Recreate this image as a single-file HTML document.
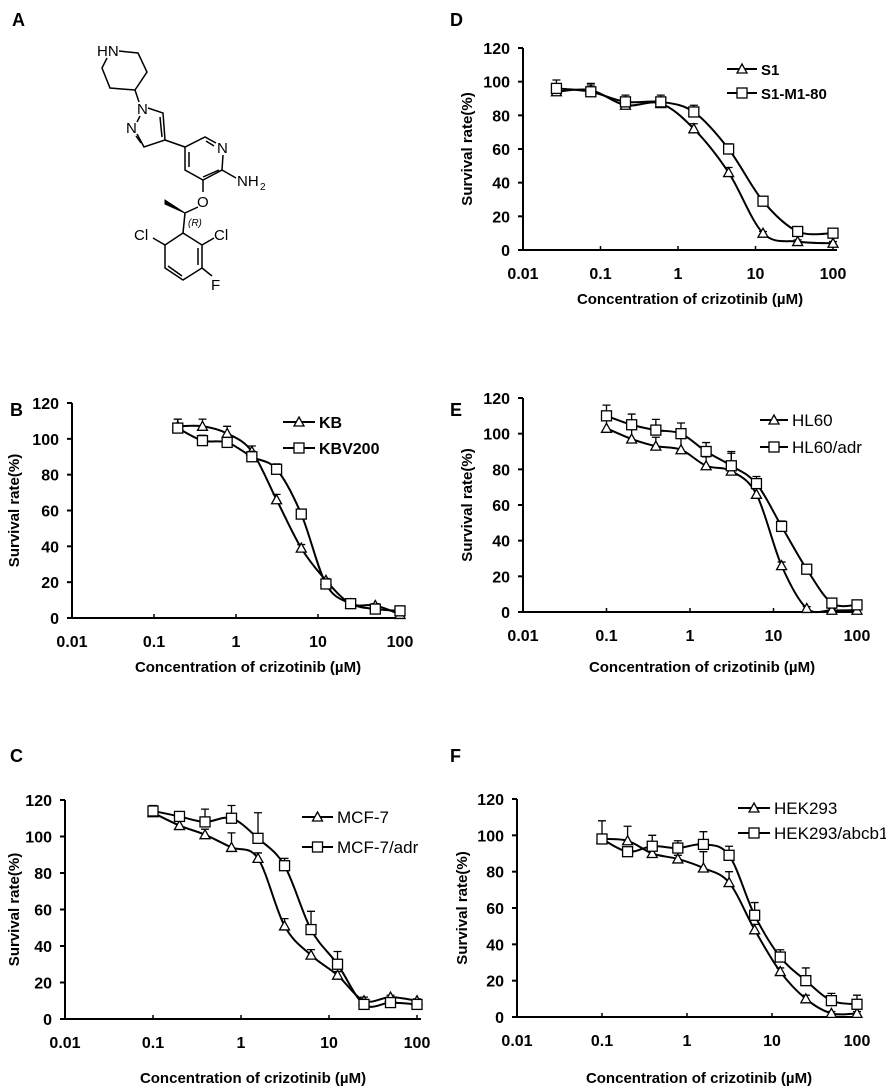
<!DOCTYPE html>
<html><head><meta charset="utf-8">
<style>
html,body{margin:0;padding:0;background:#fff;}
svg{display:block;font-family:"Liberation Sans",Arial,sans-serif;}
.t{font-weight:bold;font-size:16px;fill:#000;}
.tt{font-weight:bold;font-size:15px;fill:#000;}
.ax{stroke:#000;stroke-width:2;fill:none;}
.let{font-weight:bold;font-size:18px;}
.chem{stroke:#000;stroke-width:1.5;fill:none;}
.ct{font-size:15px;fill:#000;}
</style></head>
<body>
<svg id="fig" width="886" height="1090" viewBox="0 0 886 1090">
<text class="let" x="12" y="26">A</text>
<text class="let" x="10" y="416">B</text>
<text class="let" x="10" y="762">C</text>
<text class="let" x="450" y="26">D</text>
<text class="let" x="450" y="416">E</text>
<text class="let" x="450" y="762">F</text>
<g>
<path class="chem" d="M119,51 L138,53 L147,72 L135,90 L110,88 L102,68 L107,58"/>
<text class="ct" x="97" y="56">HN</text>
<path class="chem" d="M135,90 L139,102"/>
<text class="ct" x="137" y="114">N</text>
<path class="chem" d="M148,108 L163,113 L165,140 L144,147 L137,134"/>
<path class="chem" d="M160,117 L162,137 M141,143 L136,136"/>
<text class="ct" x="126" y="133">N</text>
<path class="chem" d="M137,122 L140,116"/>
<path class="chem" d="M165,140 L185,147 L205,137 L216,143 M223,155 L222,170 L203,180 L185,170 L185,147 M189,152 L189,167 M206,141 L214,146 M219,170 L203,177"/>
<text class="ct" x="217" y="153">N</text>
<path class="chem" d="M222,170 L236,178"/>
<text class="ct" x="237" y="186">NH</text><text x="260" y="190" style="font-size:10px">2</text>
<path class="chem" d="M203,180 L203,192"/>
<text class="ct" x="197" y="207">O</text>
<path class="chem" d="M198,207 L185,213 L183,233"/>
<path d="M185,213 L165,200 L165,204 Z" fill="#000" stroke="#000"/>
<text x="188" y="226" style="font-size:10px;font-style:italic">(R)</text>
<path class="chem" d="M183,233 L202,245 L202,268 L183,280 L165,268 L165,245 L183,233 M198,248 L198,265 M182,276 L168,266"/>
<path class="chem" d="M202,245 L214,238 M165,245 L153,238 M202,268 L212,276"/>
<text class="ct" x="214" y="240">Cl</text>
<text class="ct" x="134" y="240">Cl</text>
<text class="ct" x="211" y="290">F</text>
</g>
</svg>
<script>
// Panel B
const bConc = [0.195,0.39,0.78,1.56,3.125,6.25,12.5,25,50,100];
const bKB = [107,107,103,93,66,39,21,8,7,2];
const bKBErr = [4,4,4,3,3,2,1,1,1,1];
const bKBV = [106,99,98,90,83,58,19,8,5,4];
const bKBVErr = [5,3,2,3,3,2,1,1,1,1];
// Panel C
const cConc = [0.1,0.2,0.39,0.78,1.56,3.125,6.25,12.5,25,50,100];
const cMCF = [113,106,101,94,88,51,35,24,10,12,10];
const cMCFErr = [3,3,3,8,3,4,3,2,2,1,1];
const cADR = [114,111,108,110,99,84,49,30,8,9,8];
const cADRErr = [3,2,7,7,14,4,10,7,2,2,2];
// Panel D
const dConc = [0.027,0.075,0.21,0.6,1.6,4.5,12.5,35,100];
const dS1 = [94,95,86,87,72,46,10,5,4];
const dS1Err = [3,3,3,3,3,3,1,1,1];
const dM1 = [96,94,88,88,82,60,29,11,10];
const dM1Err = [5,5,4,4,4,3,1,1,1];
// Panel E
const eConc = [0.1,0.2,0.39,0.78,1.56,3.125,6.25,12.5,25,50,100];
const eHL = [103,97,93,91,82,79,66,26,2,1,1];
const eHLErr = [6,6,5,9,5,10,4,2,1,1,1];
const eADR = [110,105,102,100,90,82,72,48,24,5,4];
const eADRErr = [6,6,6,6,5,8,4,3,2,1,1];
// Panel F
const fConc = [0.1,0.2,0.39,0.78,1.56,3.125,6.25,12.5,25,50,100];
const fHEK = [98,97,90,87,82,74,48,25,10,2,2];
const fHEKErr = [2,8,2,2,9,6,3,2,2,1,1];
const fABC = [98,91,94,93,95,89,56,33,20,9,7];
const fABCErr = [10,2,6,4,7,5,7,4,7,4,5];
const yTicks = [0,20,40,60,80,100,120];
const xTicks = ["0.01","0.1","1","10","100"];

const NS="http://www.w3.org/2000/svg";
const svg=document.getElementById('fig');
function el(tag,attrs,parent){const e=document.createElementNS(NS,tag);for(const k in attrs)e.setAttribute(k,attrs[k]);(parent||svg).appendChild(e);return e;}
function smooth(pts){let d=`M${pts[0][0]},${pts[0][1]}`;for(let i=0;i<pts.length-1;i++){const p0=pts[i-1]||pts[i],p1=pts[i],p2=pts[i+1],p3=pts[i+2]||p2;const c1=[p1[0]+(p2[0]-p0[0])/6,p1[1]+(p2[1]-p0[1])/6],c2=[p2[0]-(p3[0]-p1[0])/6,p2[1]-(p3[1]-p1[1])/6];d+=` C${c1[0]},${c1[1]} ${c2[0]},${c2[1]} ${p2[0]},${p2[1]}`;}return d;}

function panel(cfg){
  const g=el('g',{});
  
  
  const X=v=>cfg.x0+(Math.log10(v)+2)*cfg.dec;
  const Y=v=>cfg.y0-v*(cfg.y0-cfg.y120)/120;
  const right=cfg.x0+4*cfg.dec+4;
  const axis=el('path',{class:'ax',d:`M${cfg.x0},${cfg.y120} L${cfg.x0},${cfg.y0} L${right},${cfg.y0}`},g);
  
  
  yTicks.forEach(t=>{
    el('line',{x1:cfg.x0-5,x2:cfg.x0,y1:Y(t),y2:Y(t),stroke:'#000','stroke-width':2},g);
    const tx=el('text',{class:'t',x:cfg.x0-13,y:Y(t)+6,'text-anchor':'end'},g);tx.textContent=t;
    
    
  });
  xTicks.forEach(t=>{
    const x=X(parseFloat(t));
    el('line',{x1:x,x2:x,y1:cfg.y0,y2:cfg.y0-4,stroke:'#000','stroke-width':1.5},g);
    const tx=el('text',{class:'t',x:x,y:cfg.y0+29,'text-anchor':'middle'},g);tx.textContent=t;
    
    
  });
  const yt=el('text',{class:'tt',transform:`translate(${cfg.ytX},${(cfg.y0+cfg.y120)/2}) rotate(-90)`,'text-anchor':'middle'},g);
  yt.textContent='Survival rate(%)';
  
  
  const xt=el('text',{class:'tt',x:cfg.x0+2*cfg.dec+12,y:cfg.xtY,'text-anchor':'middle'},g);
  xt.textContent='Concentration of crizotinib (\u00b5M)';
  
  
  function marker(type,x,y,parent){
    if(type==='tri') return el('path',{d:`M${x},${y-5} L${x+5},${y+4} L${x-5},${y+4} Z`,fill:'#fff',stroke:'#000','stroke-width':1.3},parent);
    return el('rect',{x:x-5,y:y-5,width:10,height:10,fill:'#fff',stroke:'#000','stroke-width':1.3},parent);
  }
  cfg.series.forEach((s,si)=>{
    const sg=el('g',{},g);
    
    
    const pts=cfg.conc.map((c,i)=>[X(c),Y(s.v[i])]);
    cfg.conc.forEach((c,i)=>{
      const x=X(c),y=Y(s.v[i]),ye=Y(s.v[i]+s.e[i]);
      el('path',{d:`M${x},${y} L${x},${ye} M${x-4},${ye} L${x+4},${ye}`,stroke:'#000','stroke-width':1.3,fill:'none'},sg);
    });
    el('path',{d:smooth(pts),fill:'none',stroke:'#000','stroke-width':2},sg);
    pts.forEach(p=>{const m=marker(s.m,p[0],p[1],sg);
      
      });
    const ly=cfg.leg.y[si];
    const lg=el('g',{},g);
    
    
    el('line',{x1:cfg.leg.x1,x2:cfg.leg.x2,y1:ly,y2:ly,stroke:'#000','stroke-width':2},lg);
    marker(s.m,(cfg.leg.x1+cfg.leg.x2)/2,ly,lg);
    const lt=el('text',{x:cfg.leg.x2+4,y:ly+6,style:`font-size:${cfg.leg.fs}px;font-weight:${cfg.leg.bold?'bold':'normal'}`},lg);
    lt.textContent=s.label;
  });
}
panel({name:'panel-b-chart',x0:72,dec:82,y0:618,y120:403,xtY:672,ytX:19,conc:bConc,
  series:[{label:'KB',v:bKB,e:bKBErr,m:'tri'},{label:'KBV200',v:bKBV,e:bKBVErr,m:'sq'}],
  leg:{x1:283,x2:315,y:[422,448],fs:16,bold:true}});
panel({name:'panel-c-chart',x0:65,dec:88,y0:1019,y120:800,xtY:1083,ytX:19,conc:cConc,
  series:[{label:'MCF-7',v:cMCF,e:cMCFErr,m:'tri'},{label:'MCF-7/adr',v:cADR,e:cADRErr,m:'sq'}],
  leg:{x1:302,x2:333,y:[817,847],fs:17,bold:false}});
panel({name:'panel-d-chart',x0:523,dec:77.5,y0:250,y120:48,xtY:304,ytX:472,conc:dConc,
  series:[{label:'S1',v:dS1,e:dS1Err,m:'tri'},{label:'S1-M1-80',v:dM1,e:dM1Err,m:'sq'}],
  leg:{x1:727,x2:757,y:[69,93],fs:15,bold:true}});
panel({name:'panel-e-chart',x0:523,dec:83.5,y0:612,y120:398,xtY:672,ytX:472,conc:eConc,
  series:[{label:'HL60',v:eHL,e:eHLErr,m:'tri'},{label:'HL60/adr',v:eADR,e:eADRErr,m:'sq'}],
  leg:{x1:760,x2:788,y:[420,447],fs:17,bold:false}});
panel({name:'panel-f-chart',x0:517,dec:85,y0:1017,y120:799,xtY:1083,ytX:467,conc:fConc,
  series:[{label:'HEK293',v:fHEK,e:fHEKErr,m:'tri'},{label:'HEK293/abcb1',v:fABC,e:fABCErr,m:'sq'}],
  leg:{x1:738,x2:770,y:[808,833],fs:17,bold:false}});
</script>
</body></html>
